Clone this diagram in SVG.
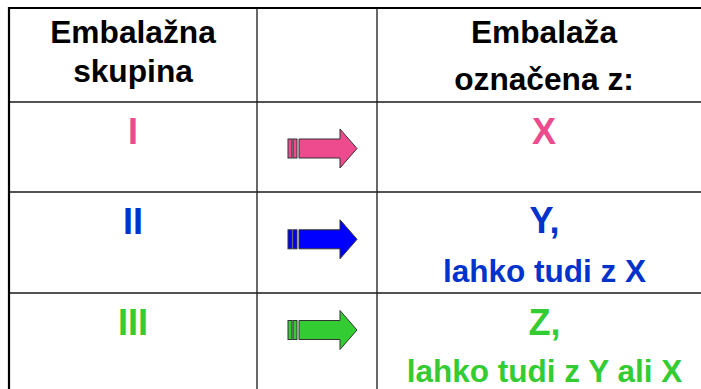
<svg xmlns="http://www.w3.org/2000/svg" width="701" height="389" viewBox="0 0 701 389">
<style>
.t{font-family:"Liberation Sans",Arial,sans-serif;font-weight:bold;text-anchor:middle}
.h{font-size:31.7px;fill:#000}
.m{font-size:36px}
.s{font-size:31.5px}
.pk{fill:#EE4A8E}
.bl{fill:#0033CC}
.gr{fill:#33CC33}
.grid{stroke:#1a1a1a;stroke-width:1.3;fill:none}
.outer{stroke:#000;stroke-width:2.2;fill:none}
.arr{stroke:#333;stroke-width:1}
</style>
<defs>
<g id="arrow">
<rect x="288" y="-9.5" width="4" height="19"/>
<rect x="293" y="-9.5" width="4" height="19"/>
<path d="M299,-9.5 H340 V-19.5 L357,0 L340,19.5 V9.5 H299 Z"/>
</g>
</defs>
<rect width="701" height="389" fill="#fff"/>
<g id="grid">
<line class="grid" x1="257" y1="8" x2="257" y2="389"/>
<line class="grid" x1="377" y1="8" x2="377" y2="389"/>
<line class="grid" x1="9" y1="102" x2="701" y2="102"/>
<line class="grid" x1="9" y1="192" x2="701" y2="192"/>
<line class="grid" x1="9" y1="293" x2="701" y2="293"/>
<line class="outer" x1="8" y1="8" x2="701" y2="8"/>
<line class="outer" x1="9" y1="7" x2="9" y2="389"/>
</g>
<g id="header-group">
<text class="t h" x="133" y="43">Embalažna</text>
<text class="t h" x="133" y="82">skupina</text>
</g>
<g id="header-label">
<text class="t h" x="544" y="43">Embalaža</text>
<text class="t h" x="544" y="90">označena z:</text>
</g>
<g id="row-I">
<text class="t m pk" x="133" y="143.5">I</text>
<text class="t m pk" x="544" y="143.5">X</text>
</g>
<g id="row-II">
<text class="t m bl" x="133" y="233.5">II</text>
<text class="t m bl" x="544.5" y="233">Y,</text>
<text class="t s bl" x="544.5" y="281.5">lahko tudi z X</text>
</g>
<g id="row-III">
<text class="t m gr" x="133" y="335">III</text>
<text class="t m gr" x="544.5" y="335">Z,</text>
<text class="t s gr" x="544.5" y="381.5">lahko tudi z Y ali X</text>
</g>
<g id="connectors">
<use href="#arrow" class="arr" transform="translate(0,148.5)" fill="#EE4A8E"/>
<use href="#arrow" class="arr" transform="translate(0,239.3)" fill="#0000FF"/>
<use href="#arrow" class="arr" transform="translate(0,330)" fill="#33CC33"/>
</g>
</svg>
